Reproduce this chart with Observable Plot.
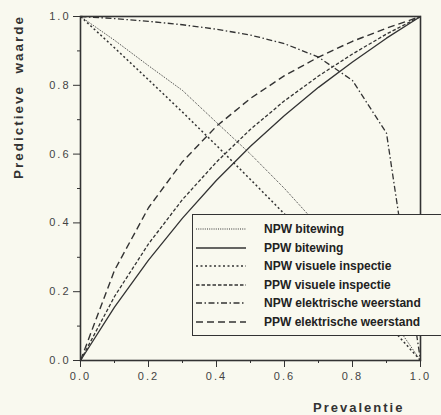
<!DOCTYPE html>
<html>
<head>
<meta charset="utf-8">
<script src="https://cdn.jsdelivr.net/npm/d3@7"></script>
<script src="https://cdn.jsdelivr.net/npm/@observablehq/plot@0.6"></script>
<style>
  body { margin: 0; background: #f9f9ef; }
  #wrap { position: relative; width: 441px; height: 415px; overflow: hidden; background: #f9f9ef;
          font-family: "Liberation Sans", Arial, sans-serif; }
  #ylab { position: absolute; left: 18px; top: 97px; transform: translate(-50%, -50%) rotate(-90deg);
          font-weight: bold; font-size: 13.5px; letter-spacing: 2px; color: #333; white-space: pre; }
  #xlab { position: absolute; left: 313px; top: 400px; font-weight: bold; font-size: 13px;
          letter-spacing: 2px; color: #333; white-space: pre; }
  #legend { position: absolute; left: 192px; top: 214px; width: 270px; height: 122px;
            border: 1.5px solid #333; background: #f9f9ef; box-sizing: border-box; }
  .row { position: absolute; left: 0; height: 18px; display: flex; align-items: center; }
  .row svg { margin-left: 3px; }
  .row span { margin-left: 18px; font-weight: bold; font-size: 12px; color: #222; white-space: pre; }
</style>
</head>
<body>
<div id="wrap">
  <div id="chart"></div>
  <div id="ylab">Predictieve  waarde</div>
  <div id="xlab">Prevalentie</div>
  <div id="legend"></div>
</div>
<script>
const prevalence = [0, 0.1, 0.2, 0.3, 0.4, 0.5, 0.6, 0.7, 0.8, 0.9, 1.0];
const npwBitewing = [1, 0.931, 0.857, 0.785, 0.692, 0.600, 0.500, 0.391, 0.273, 0.143, 0];
const ppwBitewing = [0, 0.155, 0.292, 0.414, 0.524, 0.623, 0.712, 0.794, 0.868, 0.937, 1];
const npwVisueel = [1, 0.909, 0.816, 0.722, 0.625, 0.526, 0.426, 0.323, 0.217, 0.110, 0];
const ppwVisueel = [0, 0.186, 0.339, 0.468, 0.577, 0.672, 0.755, 0.827, 0.891, 0.949, 1];
const npwElektrisch = [1, 0.994, 0.986, 0.976, 0.963, 0.946, 0.921, 0.882, 0.814, 0.661, 0];
const ppwElektrisch = [0, 0.262, 0.444, 0.578, 0.681, 0.762, 0.828, 0.882, 0.928, 0.966, 1];

const seriesNames = ["NPW bitewing", "PPW bitewing", "NPW visuele inspectie", "PPW visuele inspectie",
                     "NPW elektrische weerstand", "PPW elektrische weerstand"];
const seriesValues = [npwBitewing, ppwBitewing, npwVisueel, ppwVisueel, npwElektrisch, ppwElektrisch];
const majorTicks = [0, 0.2, 0.4, 0.6, 0.8, 1.0];
const minorTicks = [0.1, 0.3, 0.5, 0.7, 0.9];

const styles = [
  {dash: "1,1.2", width: 1},
  {dash: null, width: 1.3},
  {dash: "2,2.5", width: 1.5},
  {dash: "3.5,2", width: 1.3},
  {dash: "6,2.5,1.5,2.5", width: 1.3},
  {dash: "7,4", width: 1.4}
];

const lineMarks = seriesValues.map((vals, i) =>
  Plot.line(prevalence.map((p, j) => ({p, v: vals[j]})), {
    x: "p", y: "v", stroke: "#333", strokeWidth: styles[i].width,
    strokeDasharray: styles[i].dash, strokeLinecap: "butt"
  })
);

const fmt = d3.format(".1f");
const chart = Plot.plot({
  width: 441, height: 415,
  marginLeft: 80, marginRight: 21, marginTop: 16, marginBottom: 55,
  style: {background: "transparent", fontFamily: "Liberation Sans, Arial, sans-serif"},
  x: {domain: [0, 1]},
  y: {domain: [0, 1]},
  marks: [
    Plot.axisX({ticks: minorTicks, tickSize: 3, text: null, label: null, stroke: "#333"}),
    Plot.axisX({ticks: majorTicks, tickSize: 7, tickPadding: 5, tickFormat: fmt, label: null,
                fontSize: 11, fill: "#444", stroke: "#333"}),
    Plot.axisY({ticks: minorTicks, tickSize: 3, text: null, label: null, stroke: "#333"}),
    Plot.axisY({ticks: majorTicks, tickSize: 7, tickPadding: 3, tickFormat: fmt, label: null,
                fontSize: 11, fill: "#444", stroke: "#333"}),
    ...lineMarks,
    Plot.frame({stroke: "#333", strokeWidth: 1.6})
  ]
});
chart.querySelectorAll("text").forEach(t => t.style.letterSpacing = "2px");
document.getElementById("chart").appendChild(chart);

const legend = document.getElementById("legend");
seriesNames.forEach((name, i) => {
  const row = document.createElement("div");
  row.className = "row";
  row.style.top = (5 + i * 18.6) + "px";
  const ns = "http://www.w3.org/2000/svg";
  const svg = document.createElementNS(ns, "svg");
  svg.setAttribute("width", 50); svg.setAttribute("height", 6);
  const ln = document.createElementNS(ns, "line");
  ln.setAttribute("x1", 0); ln.setAttribute("x2", 50);
  ln.setAttribute("y1", 3); ln.setAttribute("y2", 3);
  ln.setAttribute("stroke", "#333");
  ln.setAttribute("stroke-width", styles[i].width);
  if (styles[i].dash) ln.setAttribute("stroke-dasharray", styles[i].dash);
  svg.appendChild(ln);
  const span = document.createElement("span");
  span.textContent = name;
  row.appendChild(svg); row.appendChild(span);
  legend.appendChild(row);
});
</script>
</body>
</html>
